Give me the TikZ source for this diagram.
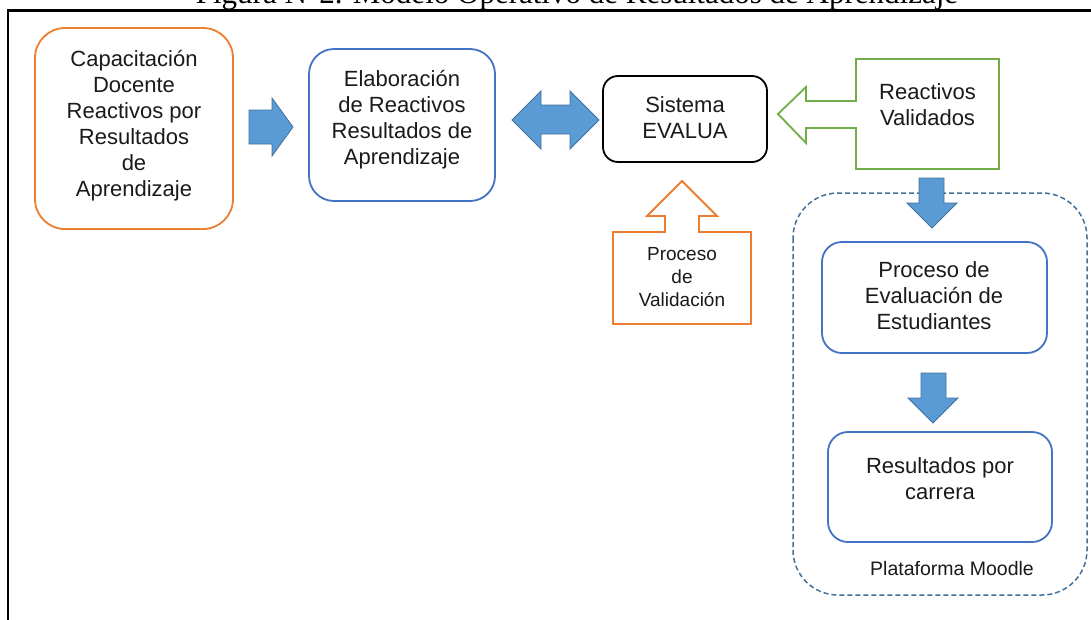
\documentclass[tikz,border=0pt]{standalone}
\usepackage{fontspec}
\setmainfont{Liberation Sans}
\newfontfamily\capfont{Liberation Serif}
\definecolor{orng}{HTML}{ED7D31}
\definecolor{bluebox}{HTML}{4472C4}
\definecolor{bluefill}{HTML}{5B9BD5}
\definecolor{bluedark}{HTML}{41719C}
\definecolor{grn}{HTML}{70AD47}
\definecolor{txt}{HTML}{1A1A1A}
\tikzset{
  boxbase/.style={draw, line width=1.8pt, fill=white, inner sep=0pt},
  maintext/.style={font=\fontsize{22}{26}\selectfont, align=center, text=txt},
  smalltext/.style={font=\fontsize{19}{23}\selectfont, align=center, text=txt},
  blockarrow/.style={draw=bluedark, line width=0.8pt, fill=bluefill, line join=miter},
  callout/.style={line width=1.8pt, fill=white, line join=miter},
}
\begin{document}
\begin{tikzpicture}[x=1pt, y=-1pt]
\useasboundingbox (0,0) rectangle (1091,619);
\clip (0,0) rectangle (1091,619);
\fill[white] (0,0) rectangle (1091,619);
% caption (cut at top, as in the reference)
\node[anchor=base, inner sep=0pt, font=\capfont\fontsize{31}{36}\selectfont] (cap) at (577,3) {Figura N°2. Modelo Operativo de Resultados de Aprendizaje};
% frame
\draw[line width=2.5pt, line cap=rect] (8,619) -- (8,10.5) -- (1095,10.5);

% dashed container
\draw[draw=bluedark, line width=1.5pt, dash pattern=on 5pt off 3pt, rounded corners=45pt] (793,193) rectangle (1087,595);
\node[font=\fontsize{19.5}{23}\selectfont, text=txt] (moodle) at (952,569) {Plataforma Moodle};

% boxes
\node[boxbase, draw=orng, rounded corners=30pt, minimum width=198pt, minimum height=201pt] (b1) at (134,128.5) {};
\node[maintext] (t1) at (134,126) {Capacitación\\Docente\\Reactivos por\\Resultados\\de\\Aprendizaje};

\node[boxbase, draw=bluebox, rounded corners=25pt, minimum width=186pt, minimum height=152pt] (b2) at (402,125) {};
\node[maintext] (t2) at (402,120) {Elaboración\\de Reactivos\\Resultados de\\Aprendizaje};

\node[boxbase, draw=black, rounded corners=15pt, minimum width=164pt, minimum height=86pt] (b3) at (685,119) {};
\node[maintext] (t3) at (685,118) {Sistema\\EVALUA};

\node[boxbase, draw=bluebox, rounded corners=20pt, minimum width=225pt, minimum height=111pt] (b4) at (934.5,297.5) {};
\node[maintext] (t4) at (934,296) {Proceso de\\Evaluación de\\Estudiantes};

\node[boxbase, draw=bluebox, rounded corners=20pt, minimum width=224pt, minimum height=110pt] (b5) at (940,487) {};
\node[maintext] (t5) at (940,478.5) {Resultados por\\carrera};

% green callout (left arrow)
\draw[callout, draw=grn] (856,59) -- (999,59) -- (999,169) -- (856,169) -- (856,128) -- (806,128) -- (806,143) -- (778,114) -- (806,87) -- (806,101) -- (856,101) -- cycle;
\node[maintext] (t6) at (927.5,104.5) {Reactivos\\Validados};

% orange callout (up arrow)
\draw[callout, draw=orng] (613,232) -- (665,232) -- (665,216) -- (647,216) -- (682,181) -- (717,216) -- (699,216) -- (699,232) -- (751,232) -- (751,324) -- (613,324) -- cycle;
\node[smalltext] (t7) at (682,277) {Proceso\\de\\Validación};

% blue block arrows
\draw[blockarrow] (249,110) -- (272,110) -- (272,98) -- (293,127) -- (272,156) -- (272,144) -- (249,144) -- cycle;
\draw[blockarrow] (512,120) -- (541,91) -- (541,105) -- (570,105) -- (570,91) -- (599,120) -- (570,149) -- (570,134) -- (541,134) -- (541,149) -- cycle;
\draw[blockarrow] (919,178) -- (944,178) -- (944,203) -- (957,203) -- (932,228) -- (907,203) -- (919,203) -- cycle;
\draw[blockarrow] (921,373) -- (946,373) -- (946,398) -- (958,398) -- (933,423) -- (908,398) -- (921,398) -- cycle;
\end{tikzpicture}
\end{document}
